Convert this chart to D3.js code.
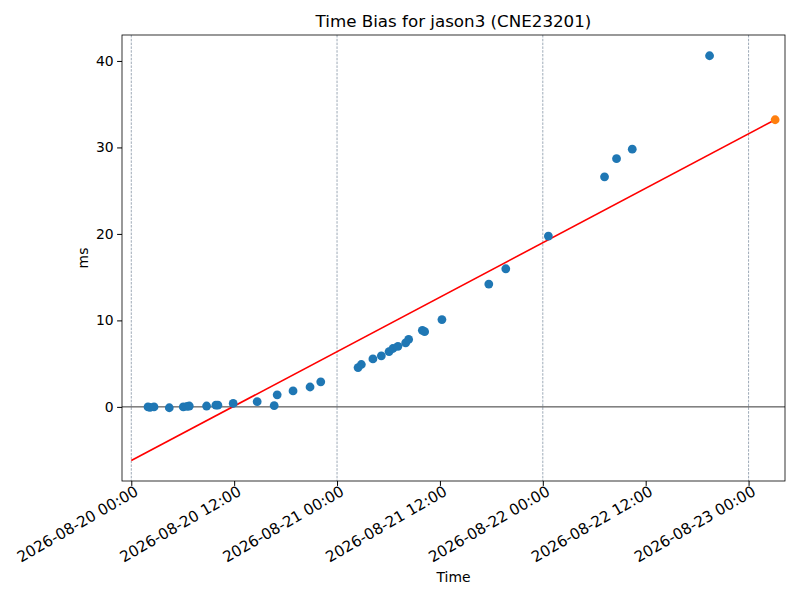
<!DOCTYPE html>
<html>
<head>
<meta charset="utf-8">
<script src="https://cdn.jsdelivr.net/npm/d3@7"></script>
<style>
  body { margin: 0; background: #fff; }
  text { font-family: "DejaVu Sans", sans-serif; fill: #000; }
</style>
</head>
<body>
<div id="chart"></div>
<script>
// measured time bias samples (ms)
const sampleTimes = [
  "2026-08-20 01:57", "2026-08-20 02:11", "2026-08-20 02:39", "2026-08-20 04:26",
  "2026-08-20 06:04", "2026-08-20 06:31", "2026-08-20 06:46", "2026-08-20 08:47",
  "2026-08-20 09:52", "2026-08-20 10:06", "2026-08-20 11:53", "2026-08-20 14:41",
  "2026-08-20 16:40", "2026-08-20 17:01", "2026-08-20 18:52", "2026-08-20 20:51",
  "2026-08-20 22:06", "2026-08-21 02:27", "2026-08-21 02:50", "2026-08-21 04:11",
  "2026-08-21 05:10", "2026-08-21 06:04", "2026-08-21 06:31", "2026-08-21 07:06",
  "2026-08-21 08:00", "2026-08-21 08:21", "2026-08-21 09:57", "2026-08-21 10:13",
  "2026-08-21 12:14", "2026-08-21 17:42", "2026-08-21 19:41", "2026-08-22 00:39",
  "2026-08-22 07:12", "2026-08-22 08:36", "2026-08-22 10:26", "2026-08-22 19:27"
];
const sampleValues = [
  0.0, -0.05, 0.0, -0.1,
  0.0, 0.05, 0.1, 0.1,
  0.2, 0.2, 0.4, 0.6,
  0.15, 1.4, 1.85, 2.3,
  2.9, 4.55, 4.9, 5.55,
  5.9, 6.4, 6.75, 7.0,
  7.4, 7.8, 8.85, 8.7,
  10.1, 14.2, 15.97, 19.75,
  26.6, 28.7, 29.8, 40.6
];

// linear fit endpoints and predicted point
const fitTimes = ["2026-08-20 00:00", "2026-08-23 03:06"];
const fitValues = [-6.2, 33.2];
const predTime = "2026-08-23 03:06";
const predValue = 33.2;

const xTickLabels = [
  "2026-08-20 00:00", "2026-08-20 12:00", "2026-08-21 00:00", "2026-08-21 12:00",
  "2026-08-22 00:00", "2026-08-22 12:00", "2026-08-23 00:00"
];
const yTicks = [0, 10, 20, 30, 40];

const parseTime = d3.timeParse("%Y-%m-%d %H:%M");
const fmt = d3.timeFormat("%Y-%m-%d %H:%M");

const width = 800, height = 600;
const margin = {top: 35, right: 15, bottom: 119, left: 122};
const w = width - margin.left - margin.right;
const h = height - margin.top - margin.bottom;

const svg = d3.select("#chart").append("svg")
    .attr("width", width)
    .attr("height", height);

const g = svg.append("g")
    .attr("transform", "translate(" + margin.left + "," + margin.top + ")");

const x = d3.scaleTime()
    .domain([parseTime("2026-08-19 22:55"), parseTime("2026-08-23 04:15")])
    .range([0, w]);

const y = d3.scaleLinear()
    .domain([-8.57, 43.0])
    .range([h, 0]);

// dashed day lines
const dayTicks = xTickLabels.map(parseTime).filter(d => d.getHours() === 0);
g.selectAll(".day-line")
    .data(dayTicks)
    .enter().append("line")
    .attr("class", "day-line")
    .attr("x1", d => x(d)).attr("x2", d => x(d))
    .attr("y1", 0).attr("y2", h)
    .attr("stroke", "#5d7186")
    .attr("stroke-width", 0.6)
    .attr("stroke-dasharray", "2.5,1.3");

// zero line
g.append("line")
    .attr("x1", 0).attr("x2", w)
    .attr("y1", y(0)).attr("y2", y(0))
    .attr("stroke", "#000")
    .attr("stroke-width", 0.8);

// fit line
const fitData = fitTimes.map((t, i) => ({t: parseTime(t), v: fitValues[i]}));
g.append("path")
    .datum(fitData)
    .attr("fill", "none")
    .attr("stroke", "#ff0000")
    .attr("stroke-width", 1.6)
    .attr("d", d3.line().x(d => x(d.t)).y(d => y(d.v)));

// samples
const samples = sampleTimes.map((t, i) => ({t: parseTime(t), v: sampleValues[i]}));
g.selectAll(".dot")
    .data(samples)
    .enter().append("circle")
    .attr("class", "dot")
    .attr("cx", d => x(d.t))
    .attr("cy", d => y(d.v))
    .attr("r", 4.4)
    .attr("fill", "#1f77b4");

g.append("circle")
    .attr("cx", x(parseTime(predTime)))
    .attr("cy", y(predValue))
    .attr("r", 4.4)
    .attr("fill", "#ff7f0e");

// axes
const xAxis = d3.axisBottom(x)
    .tickValues(xTickLabels.map(parseTime))
    .tickFormat(fmt)
    .tickSize(4.9)
    .tickPadding(3);

const xg = g.append("g")
    .attr("transform", "translate(0," + h + ")")
    .call(xAxis);
xg.select(".domain").remove();
xg.selectAll("text")
    .style("font-size", "15.2px")
    .style("font-family", "DejaVu Sans")
    .attr("text-anchor", "end")
    .attr("dy", "0.75em")
    .attr("transform", "rotate(-30)")
    .attr("x", 0)
    .attr("y", 4);

const yAxis = d3.axisLeft(y)
    .tickValues(yTicks)
    .tickSize(4.9)
    .tickPadding(3.5);
const yg = g.append("g").call(yAxis);
yg.select(".domain").remove();
yg.selectAll("text")
    .style("font-size", "13.9px")
    .style("font-family", "DejaVu Sans");

// frame
g.append("rect")
    .attr("width", w).attr("height", h)
    .attr("fill", "none")
    .attr("stroke", "#000")
    .attr("stroke-width", 0.8);

// labels
svg.append("text")
    .attr("x", margin.left + w / 2)
    .attr("y", 27)
    .attr("text-anchor", "middle")
    .style("font-size", "16.7px")
    .text("Time Bias for jason3 (CNE23201)");

svg.append("text")
    .attr("x", margin.left + w / 2)
    .attr("y", 582)
    .attr("text-anchor", "middle")
    .style("font-size", "13.9px")
    .text("Time");

svg.append("text")
    .attr("transform", "translate(88," + (margin.top + h / 2) + ") rotate(-90)")
    .attr("text-anchor", "middle")
    .style("font-size", "13.9px")
    .text("ms");
</script>
</body>
</html>
